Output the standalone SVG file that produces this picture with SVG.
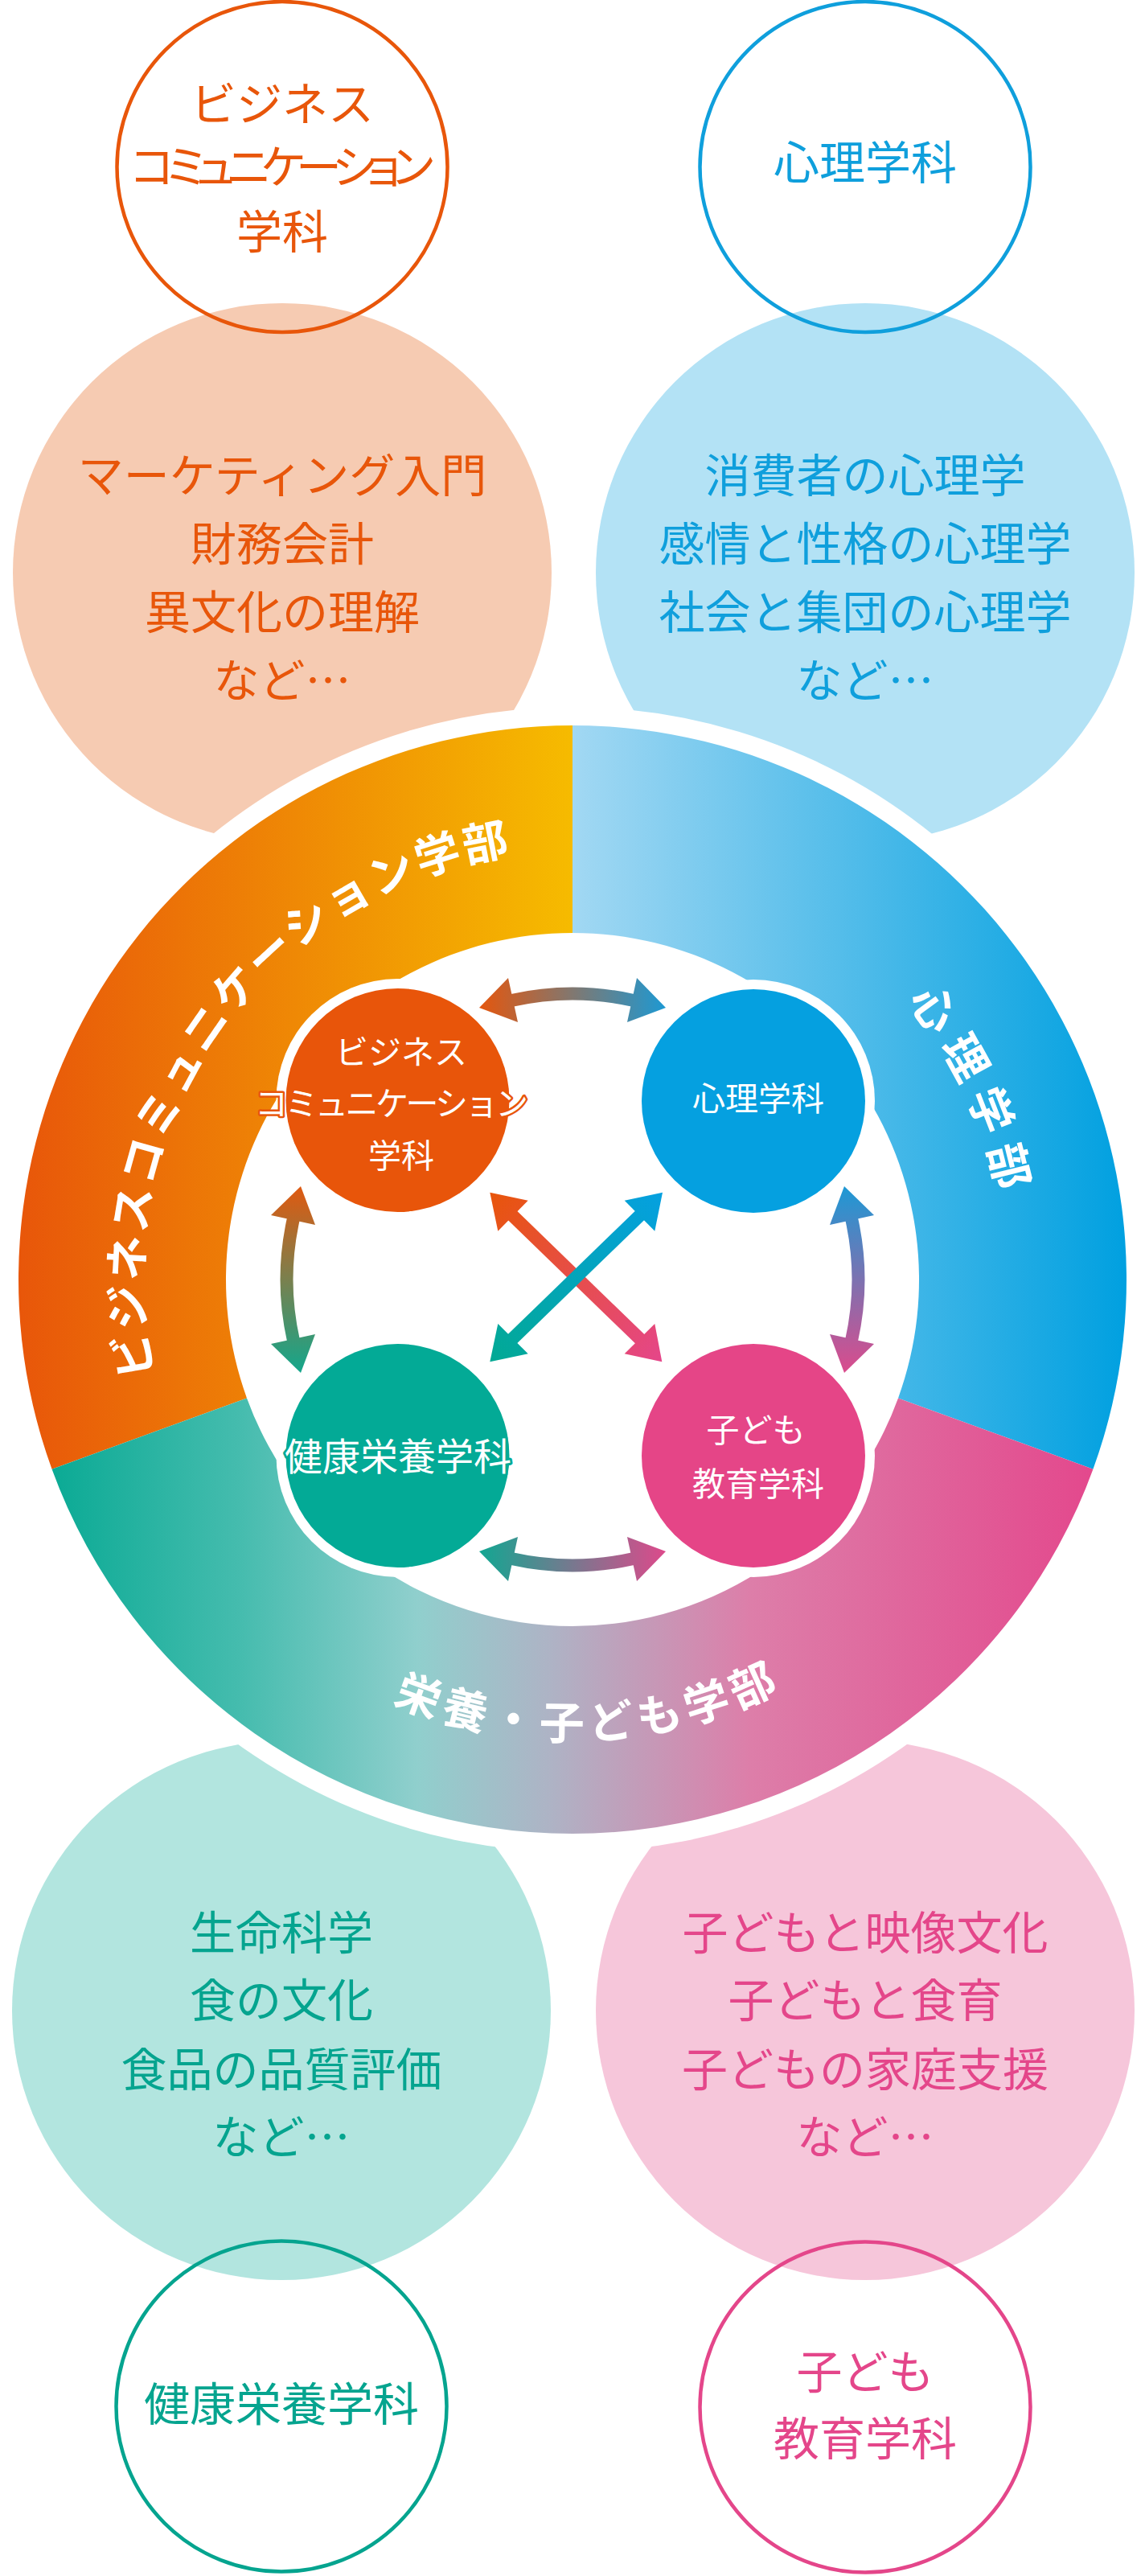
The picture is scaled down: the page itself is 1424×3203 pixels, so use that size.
<svg xmlns="http://www.w3.org/2000/svg" width="1424" height="3203" viewBox="0 0 1424 3203">
<defs>
<style>
text{font-family:"Noto Sans CJK JP","Noto Sans CJK SC",sans-serif;text-anchor:middle}
.big{font-size:57px;font-weight:400}
.or{fill:#E8560A}.bl{fill:#0F9FDC}.tl{fill:#05A48F}.pk{fill:#E4468A}
.ring{font-size:56px;font-weight:700;fill:#fff;text-anchor:middle}
.sm{font-size:41px;font-weight:400;fill:#fff}
.outline{fill:none;stroke-width:4.5}
</style>
<linearGradient id="gOrange" gradientUnits="userSpaceOnUse" x1="22" y1="0" x2="712" y2="0"><stop offset="0" stop-color="#E8560A"/><stop offset="1" stop-color="#F6BB00"/></linearGradient>
<linearGradient id="gBlueR" gradientUnits="userSpaceOnUse" x1="712" y1="0" x2="1403" y2="0"><stop offset="0" stop-color="#A2D8F3"/><stop offset="1" stop-color="#00A0E0"/></linearGradient>
<linearGradient id="gBot" gradientUnits="userSpaceOnUse" x1="22" y1="0" x2="1403" y2="0"><stop offset="0" stop-color="#00A790"/><stop offset="0.2" stop-color="#45BCAE"/><stop offset="0.36" stop-color="#90CFCD"/><stop offset="0.48" stop-color="#AEB3C5"/><stop offset="0.66" stop-color="#DD7EA9"/><stop offset="1" stop-color="#E4438A"/></linearGradient>
<linearGradient id="gTop" gradientUnits="userSpaceOnUse" x1="-120" y1="0" x2="120" y2="0"><stop offset="0" stop-color="#E8550A"/><stop offset="1" stop-color="#1A9AD6"/></linearGradient>
<linearGradient id="gLeft" gradientUnits="userSpaceOnUse" x1="-120" y1="0" x2="120" y2="0"><stop offset="0" stop-color="#10A88E"/><stop offset="1" stop-color="#E3580E"/></linearGradient>
<linearGradient id="gRight" gradientUnits="userSpaceOnUse" x1="-120" y1="0" x2="120" y2="0"><stop offset="0" stop-color="#1A9AD6"/><stop offset="1" stop-color="#DE4A8B"/></linearGradient>
<linearGradient id="gBottomA" gradientUnits="userSpaceOnUse" x1="-120" y1="0" x2="120" y2="0"><stop offset="0" stop-color="#E0488B"/><stop offset="1" stop-color="#0FA892"/></linearGradient>
<linearGradient id="gRed" gradientUnits="userSpaceOnUse" x1="609" y1="1483" x2="823" y2="1693"><stop offset="0" stop-color="#E8550A"/><stop offset="1" stop-color="#E5468A"/></linearGradient>
<linearGradient id="gCyan" gradientUnits="userSpaceOnUse" x1="824" y1="1483" x2="609" y2="1693"><stop offset="0" stop-color="#05A0E0"/><stop offset="1" stop-color="#02A994"/></linearGradient>
<path id="pBiz" d="M712,2125 A534,534 0 1 1 712,1057 A534,534 0 1 1 712,2125"/>
<path id="pPsy" d="M712,2132 A541,541 0 1 1 712,1050 A541,541 0 1 1 712,2132"/>
<path id="pBot" d="M712,1019 A572,572 0 1 0 712,2163 A572,572 0 1 0 712,1019"/>
</defs>
<rect width="1424" height="3203" fill="#fff"/>

<g id="bubble-biz"><circle cx="351" cy="712" r="335" fill="#F6CBB2"/>
<text class="big or" x="351" y="612">マーケティング入門</text>
<text class="big or" x="351" y="697">財務会計</text>
<text class="big or" x="351" y="782">異文化の理解</text>
<text class="big or" x="351" y="867">など…</text></g>
<g id="bubble-psy"><circle cx="1076" cy="712" r="335" fill="#B3E2F5"/>
<text class="big bl" x="1076" y="612">消費者の心理学</text>
<text class="big bl" x="1076" y="697">感情と性格の心理学</text>
<text class="big bl" x="1076" y="782">社会と集団の心理学</text>
<text class="big bl" x="1076" y="867">など…</text></g>
<g id="bubble-health"><circle cx="350" cy="2500" r="335" fill="#B2E5DF"/>
<text class="big tl" x="350" y="2424">生命科学</text>
<text class="big tl" x="350" y="2508">食の文化</text>
<text class="big tl" x="350" y="2594">食品の品質評価</text>
<text class="big tl" x="350" y="2678">など…</text></g>
<g id="bubble-child"><circle cx="1076" cy="2500" r="335" fill="#F6C6DA"/>
<text class="big pk" x="1076" y="2424">子どもと映像文化</text>
<text class="big pk" x="1076" y="2508">子どもと食育</text>
<text class="big pk" x="1076" y="2594">子どもの家庭支援</text>
<text class="big pk" x="1076" y="2678">など…</text></g>

<g id="label-biz"><circle class="outline" cx="351" cy="207.5" r="205.5" stroke="#E8560A"/>
<text class="big or" x="351" y="150">ビジネス</text>
<text class="big or" x="351" y="228" textLength="376" lengthAdjust="spacing" style="font-feature-settings:'palt'">コミュニケーション</text>
<text class="big or" x="351" y="309">学科</text></g>
<g id="label-psy"><circle class="outline" cx="1076" cy="207.5" r="205.5" stroke="#0F9FDC"/>
<text class="big bl" x="1076" y="223">心理学科</text></g>
<g id="label-health"><circle class="outline" cx="350" cy="2992" r="205.5" stroke="#05A48F"/>
<text class="big tl" x="350" y="3010">健康栄養学科</text></g>
<g id="label-child"><circle class="outline" cx="1076" cy="2993" r="205.5" stroke="#E4468A"/>
<text class="big pk" x="1076" y="2970">子ども</text>
<text class="big pk" x="1076" y="3053">教育学科</text></g>

<g id="wheel">
<circle cx="712" cy="1591" r="712" fill="#fff"/>
<path d="M712,902 A689,689 0 0 0 64.55,1826.65 L306.99,1738.41 A431,431 0 0 1 712,1160 Z" fill="url(#gOrange)"/>
<path d="M712,902 A689,689 0 0 1 1359.45,1826.65 L1117.01,1738.41 A431,431 0 0 0 712,1160 Z" fill="url(#gBlueR)"/>
<path d="M64.55,1826.65 A689,689 0 0 0 1359.45,1826.65 L1117.01,1738.41 A431,431 0 0 1 306.99,1738.41 Z" fill="url(#gBot)"/>
<text class="ring" letter-spacing="3"><textPath href="#pBiz" startOffset="34.6%">ビジネスコミュニケーション学部</textPath></text>
<text class="ring" letter-spacing="14"><textPath href="#pPsy" startOffset="68.05%">心理学部</textPath></text>
<text class="ring" letter-spacing="7"><textPath href="#pBot" startOffset="50.6%">栄養・子ども学部</textPath></text>
</g>

<g id="node-biz"><circle cx="494.5" cy="1368" r="151" fill="#fff"/><circle cx="494.5" cy="1368" r="139" fill="#E8550A"/>
<text class="sm" x="499" y="1323">ビジネス</text>
<text class="sm" x="487" y="1387" textLength="340" lengthAdjust="spacing" stroke="#E8550A" stroke-width="5" stroke-linejoin="round" paint-order="stroke">コミュニケーション</text>
<text class="sm" x="499" y="1452">学科</text></g>
<g id="node-psy"><circle cx="937" cy="1369" r="151" fill="#fff"/><circle cx="937" cy="1369" r="139" fill="#05A0E0"/>
<text class="sm" x="943" y="1381">心理学科</text></g>
<g id="node-health"><circle cx="494.5" cy="1810" r="151" fill="#fff"/><circle cx="494.5" cy="1810" r="139" fill="#03AA96"/>
<text class="sm" x="495" y="1828" style="font-size:47px" stroke="#03AA96" stroke-width="6" stroke-linejoin="round" paint-order="stroke">健康栄養学科</text></g>
<g id="node-child"><circle cx="937" cy="1810" r="151" fill="#fff"/><circle cx="937" cy="1810" r="139" fill="#E54587"/>
<text class="sm" x="940" y="1793">子ども</text>
<text class="sm" x="943" y="1860">教育学科</text></g>

<g id="connectors">
<g transform="translate(712 1591)"><path d="M-76,-347 Q0,-364 76,-347" stroke="url(#gTop)" stroke-width="16" fill="none"/><polygon points="-116,-338 -80,-375 -68,-320" fill="url(#gTop)"/><polygon points="116,-338 80,-375 68,-320" fill="url(#gTop)"/></g>
<g transform="translate(712 1591) rotate(-90)"><path d="M-76,-347 Q0,-364 76,-347" stroke="url(#gLeft)" stroke-width="16" fill="none"/><polygon points="-116,-338 -80,-375 -68,-320" fill="url(#gLeft)"/><polygon points="116,-338 80,-375 68,-320" fill="url(#gLeft)"/></g>
<g transform="translate(712 1591) rotate(90)"><path d="M-76,-347 Q0,-364 76,-347" stroke="url(#gRight)" stroke-width="16" fill="none"/><polygon points="-116,-338 -80,-375 -68,-320" fill="url(#gRight)"/><polygon points="116,-338 80,-375 68,-320" fill="url(#gRight)"/></g>
<g transform="translate(712 1591) rotate(180)"><path d="M-76,-347 Q0,-364 76,-347" stroke="url(#gBottomA)" stroke-width="16" fill="none"/><polygon points="-116,-338 -80,-375 -68,-320" fill="url(#gBottomA)"/><polygon points="116,-338 80,-375 68,-320" fill="url(#gBottomA)"/></g>
<g><line x1="636" y1="1510" x2="797" y2="1666" stroke="url(#gRed)" stroke-width="16"/><polygon points="609.3,1482.7 656.7,1492.7 619.3,1530.7" fill="url(#gRed)"/><polygon points="823.3,1693.3 814.3,1646 776.7,1683.3" fill="url(#gRed)"/></g>
<g><line x1="797" y1="1510" x2="636" y2="1666" stroke="url(#gCyan)" stroke-width="16"/><polygon points="824,1482.7 776.7,1492.7 814.3,1530.7" fill="url(#gCyan)"/><polygon points="609.3,1693.3 619.3,1646 656.7,1683.3" fill="url(#gCyan)"/></g>
</g>
</svg>
